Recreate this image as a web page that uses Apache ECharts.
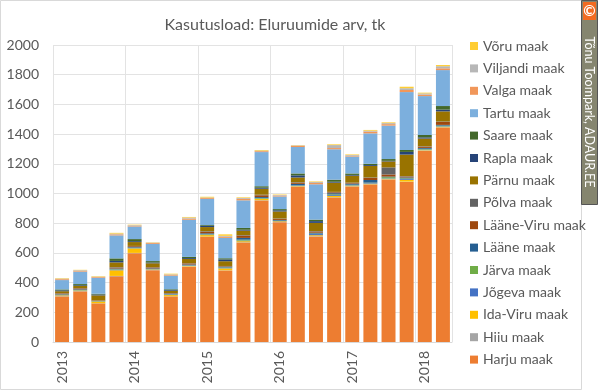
<!DOCTYPE html>
<html>
<head>
<meta charset="utf-8">
<script src="https://cdn.jsdelivr.net/npm/echarts@6/dist/echarts.min.js"></script>
<style>
html,body{margin:0;padding:0;background:#fff;}
#c{width:600px;height:392px;}
</style>
</head>
<body>
<div id="c"></div>
<script>
const categories = ["2013 Q1","2013 Q2","2013 Q3","2013 Q4","2014 Q1","2014 Q2","2014 Q3","2014 Q4",
  "2015 Q1","2015 Q2","2015 Q3","2015 Q4","2016 Q1","2016 Q2","2016 Q3","2016 Q4",
  "2017 Q1","2017 Q2","2017 Q3","2017 Q4","2018 Q1","2018 Q2"];

const harju     = [307,341,260,442,598,484,307,507,708,482,670,953,807,1045,711,973,1047,1060,1094,1078,1287,1444];
const hiiu      = [2,2,1,3,2,1,1,2,2,1,2,2,1,2,2,2,2,2,2,2,2,2];
const idaViru   = [5,3,11,38,30,3,8,3,10,13,7,8,5,3,6,8,3,4,3,12,3,3];
const jogeva    = [2,2,1,4,2,2,5,3,3,3,4,3,2,3,8,6,3,4,3,6,4,3];
const jarva     = [3,3,2,3,3,2,2,2,3,3,6,4,2,2,3,5,4,3,8,4,5,5];
const laane     = [3,4,2,5,4,4,3,5,6,4,12,6,5,10,6,8,8,18,4,6,6,5];
const laaneViru = [5,6,3,6,6,6,3,7,10,4,16,12,8,8,8,6,4,14,14,6,8,20];
const polva     = [2,2,1,3,2,2,1,2,4,2,3,4,2,3,3,3,2,3,48,3,3,3];
const parnu     = [13,14,33,32,26,26,15,28,28,32,30,40,47,32,55,62,47,78,40,145,52,68];
const rapla     = [6,5,6,10,6,5,5,6,9,12,6,7,8,14,12,6,5,6,4,18,8,12];
const saare     = [6,8,5,17,14,10,5,8,5,8,12,10,8,13,10,14,10,8,12,13,16,24];
const tartu     = [63,84,108,155,85,115,92,250,175,137,186,230,85,178,238,205,114,205,225,390,262,242];
const valga     = [6,6,5,7,5,6,6,8,6,8,10,6,6,8,9,8,5,12,10,14,10,12];
const viljandi  = [4,4,2,5,4,3,3,7,4,6,6,4,4,3,6,20,5,6,7,12,8,14];
const voru      = [3,2,3,5,3,2,4,4,5,10,4,4,3,2,4,5,4,5,5,10,5,8];

const yTicks = [0,200,400,600,800,1000,1200,1400,1600,1800,2000];

const seriesDefs = [
  ["Harju maak", harju, "#ED7D31"],
  ["Hiiu maak", hiiu, "#A5A5A5"],
  ["Ida-Viru maak", idaViru, "#FFC000"],
  ["Jõgeva maak", jogeva, "#4472C4"],
  ["Järva maak", jarva, "#70AD47"],
  ["Lääne maak", laane, "#255E91"],
  ["Lääne-Viru maak", laaneViru, "#9E480E"],
  ["Põlva maak", polva, "#636363"],
  ["Pärnu maak", parnu, "#997300"],
  ["Rapla maak", rapla, "#264478"],
  ["Saare maak", saare, "#43682B"],
  ["Tartu maak", tartu, "#7CAFDD"],
  ["Valga maak", valga, "#F1975A"],
  ["Viljandi maak", viljandi, "#B7B7B7"],
  ["Võru maak", voru, "#FFCD33"]
];

const FONT = "Lato";
const chart = echarts.init(document.getElementById('c'), null, {renderer:'canvas'});
chart.setOption({
  animation:false,
  backgroundColor:'#fff',
  textStyle:{fontFamily:FONT},
  title:{
    text:'Kasutusload: Eluruumide arv, tk',
    left:270, top:12, textAlign:'center',
    textStyle:{fontFamily:FONT, fontSize:16, fontWeight:'normal', color:'#595959'}
  },
  legend:{
    orient:'vertical', left:465, top:34,
    data: seriesDefs.map(s=>s[0]).reverse(),
    icon:'rect', itemWidth:8, itemHeight:8, itemGap:8.4,
    textStyle:{fontFamily:FONT, fontSize:14, color:'#595959', lineHeight:14}
  },
  grid:{left:53, right:148, top:45, bottom:50, containLabel:false},
  xAxis:{
    type:'category', data:categories, boundaryGap:true,
    axisLine:{show:true, lineStyle:{color:'#D9D9D9'}},
    axisTick:{show:false},
    splitLine:{show:true, interval:3, lineStyle:{color:'#E3E3E3'}},
    axisLabel:{interval:3, rotate:90, margin:9, fontSize:14, color:'#595959', fontFamily:FONT,
      formatter:v=>v.slice(0,4)}
  },
  yAxis:{
    type:'value', min:yTicks[0], max:yTicks[yTicks.length-1], interval:200,
    axisLine:{show:false}, axisTick:{show:false},
    splitLine:{lineStyle:{color:'#E3E3E3'}},
    axisLabel:{fontSize:14, color:'#595959', margin:14, fontFamily:FONT, formatter:v=>String(v)}
  },
  series: seriesDefs.map(([name,data,color])=>({
    name, type:'bar', stack:'total', data,
    barCategoryGap:'23%',
    itemStyle:{color},
    emphasis:{disabled:true}
  })),
  graphic:[
    {type:'rect', shape:{x:0.5,y:0.5,width:581,height:389}, style:{fill:'none', stroke:'#D9D9D9', lineWidth:1}, z:-1},
    {type:'rect', shape:{x:581.5,y:0.5,width:16,height:204}, style:{fill:'#85856F', stroke:'#555555', lineWidth:1}, z:10},
    {type:'rect', shape:{x:583,y:2,width:13,height:18}, style:{fill:'#F26B21'}, z:11},
    {type:'text', x:589.5, y:11, style:{text:'©', fill:'#fff', font:'bold 15px '+FONT, align:'center', verticalAlign:'middle'}, z:12},
    {type:'text', x:589.5, y:112, rotation:-Math.PI/2, style:{text:'Tõnu Toompark, ADAUR.EE', fill:'#fff', font:'12.5px '+FONT, align:'center', verticalAlign:'middle'}, z:12}
  ]
});
</script>
</body>
</html>
